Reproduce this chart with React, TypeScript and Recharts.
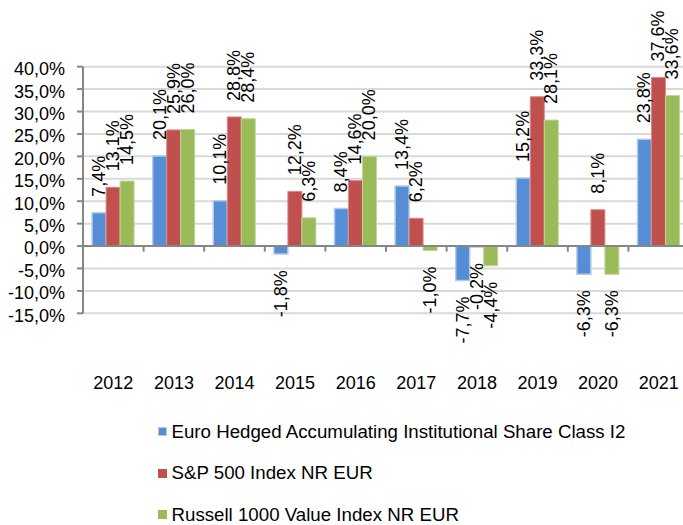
import React from "react";
import { BarChart, Bar, XAxis, YAxis, CartesianGrid, ReferenceLine, LabelList, Legend } from "recharts";

const years = ["2012", "2013", "2014", "2015", "2016", "2017", "2018", "2019", "2020", "2021"];
const euroHedged = [7.4, 20.1, 10.1, -1.8, 8.4, 13.4, -7.7, 15.2, -6.3, 23.8];
const sp500 = [13.1, 25.9, 28.8, 12.2, 14.6, 6.2, -0.2, 33.3, 8.1, 37.6];
const russell = [14.5, 26.0, 28.4, 6.3, 20.0, -1.0, -4.4, 28.1, -6.3, 33.6];
const yTicks = [-15, -10, -5, 0, 5, 10, 15, 20, 25, 30, 35, 40];

const seriesNames = [
  "Euro Hedged Accumulating Institutional Share Class I2",
  "S&P 500 Index NR EUR",
  "Russell 1000 Value Index NR EUR",
];

const FONT = "'Liberation Sans', Arial, sans-serif";
const BLUE = "#558ED5";
const BLUE_EDGE = "#B3CAEA";
const RED = "#C0504D";
const RED_EDGE = "#D88A88";
const GREEN = "#9BBB59";
const GREEN_EDGE = "#C2D69B";

const data = years.map((y, i) => ({ year: y, a: euroHedged[i], b: sp500[i], c: russell[i] }));

const fmt = (v: number) => v.toFixed(1).replace(".", ",") + "%";

function BarLabel(props: any) {
  const vb = props.viewBox && props.viewBox.width !== undefined ? props.viewBox : props;
  const x = Number(vb.x), y = Number(vb.y), w = Number(vb.width), h = Number(vb.height);
  const v = Number(props.value);
  const cx = x + w / 2;
  const top = Math.min(y, y + h);
  const bottom = Math.max(y, y + h);
  const ay = v >= 0 ? top - 16 : bottom + 16;
  return (
    <text
      x={cx}
      y={ay}
      transform={`rotate(-90 ${cx} ${ay})`}
      textAnchor={v >= 0 ? "start" : "end"}
      dominantBaseline="central"
      fontFamily={FONT}
      fontSize={18}
      fill="#000"
    >
      {fmt(v)}
    </text>
  );
}

const legendItems = [
  { name: seriesNames[0], fill: BLUE, edge: BLUE_EDGE },
  { name: seriesNames[1], fill: RED, edge: RED },
  { name: seriesNames[2], fill: GREEN, edge: GREEN },
];

function LegendContent() {
  return (
    <div style={{ fontFamily: FONT, fontSize: 18.7, color: "#000" }}>
      {legendItems.map((it) => (
        <div key={it.name} style={{ display: "flex", alignItems: "center", height: 41.5, whiteSpace: "nowrap" }}>
          <span
            style={{
              display: "inline-block",
              width: 9,
              height: 9,
              boxSizing: "border-box",
              background: it.fill,
              border: `1.5px solid ${it.edge}`,
              marginRight: 4.5,
            }}
          />
          <span>{it.name}</span>
        </div>
      ))}
    </div>
  );
}

export default function App() {
  return (
    <div style={{ position: "absolute", left: 0, top: 0, width: 683, height: 525, overflow: "hidden", background: "#fff" }}>
      <BarChart
        width={689}
        height={525}
        data={data}
        margin={{ top: 66.7, right: 0, left: 0, bottom: 181.7 }}
        barCategoryGap="15%"
        barGap={0}
      >
        <CartesianGrid vertical={false} stroke="#D9D9D9" strokeWidth={2} />
        <XAxis
          dataKey="year"
          height={30}
          axisLine={false}
          tickLine={false}
          tickSize={0}
          tickMargin={63}
          interval={0}
          tick={{ fontFamily: FONT, fontSize: 18, fill: "#000" }}
        />
        <YAxis
          width={83}
          domain={[-15, 40]}
          ticks={yTicks}
          interval={0}
          allowDataOverflow
          tickFormatter={(v: number) => fmt(v)}
          axisLine={{ stroke: "#868686", strokeWidth: 2 }}
          tickLine={{ stroke: "#868686", strokeWidth: 2 }}
          tickSize={6}
          tickMargin={12}
          tick={{ fontFamily: FONT, fontSize: 18, fill: "#000", dy: 2 }}
        />
        <Bar dataKey="a" name={seriesNames[0]} fill={BLUE} stroke={BLUE_EDGE} strokeWidth={1.5} isAnimationActive={false}>
          <LabelList dataKey="a" content={BarLabel} />
        </Bar>
        <Bar dataKey="b" name={seriesNames[1]} fill={RED} stroke={RED_EDGE} strokeWidth={1} isAnimationActive={false}>
          <LabelList dataKey="b" content={BarLabel} />
        </Bar>
        <Bar dataKey="c" name={seriesNames[2]} fill={GREEN} stroke={GREEN_EDGE} strokeWidth={1} isAnimationActive={false}>
          <LabelList dataKey="c" content={BarLabel} />
        </Bar>
        <ReferenceLine y={0} stroke="#868686" strokeWidth={2} />
        {years.slice(1).map((y) => (
          <ReferenceLine
            key={y}
            position="start"
            segment={[{ x: y, y: 0 }, { x: y, y: -1.25 }]}
            stroke="#868686"
            strokeWidth={2}
          />
        ))}
        <Legend
          layout="vertical"
          align="center"
          verticalAlign="middle"
          content={LegendContent}
          wrapperStyle={{ left: 158, top: 410.75, width: 525 }}
        />
      </BarChart>
    </div>
  );
}
